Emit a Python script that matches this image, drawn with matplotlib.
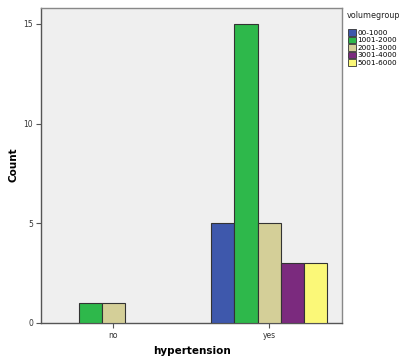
import matplotlib.pyplot as plt
import numpy as np

categories = ['no', 'yes']
groups = ['00-1000', '1001-2000', '2001-3000', '3001-4000', '5001-6000']
colors = ['#3e58ac', '#2eb84b', '#d4cf98', '#7b2a7e', '#fbf878']
counts = {
    '00-1000': [0, 5],
    '1001-2000': [1, 15],
    '2001-3000': [1, 5],
    '3001-4000': [0, 3],
    '5001-6000': [0, 3],
}

fig = plt.figure(figsize=(4.01, 3.58), dpi=100)
ax = fig.add_axes([0.102, 0.098, 0.750, 0.880])
ax.set_facecolor('#efefef')

x = np.arange(len(categories))
w = 0.148
handles = []
for i, g in enumerate(groups):
    vals = np.array(counts[g], dtype=float)
    pos = x + (i - 2) * w
    keep = vals > 0
    ax.bar(pos[keep], vals[keep], width=w, color=colors[i],
           edgecolor='#333333', linewidth=0.8, zorder=3)
    handles.append(plt.Rectangle((0, 0), 1, 1, facecolor=colors[i],
                                 edgecolor='#333333', linewidth=0.6))

ax.set_xlim(-0.464, 1.466)
ax.set_ylim(0, 15.8)
ax.set_xticks(x)
ax.set_xticklabels(categories, fontsize=5.5, color='#333333')
ax.set_yticks([0, 5, 10, 15])
ax.set_yticklabels(['0', '5', '10', '15'], fontsize=5.5, color='#333333')
ax.tick_params(direction='out', length=3.5, width=0.8, color='#555555', pad=2)

for s in ax.spines.values():
    s.set_color('#888888')
    s.set_linewidth(1.0)
ax.spines['left'].set_color('#555555')
ax.spines['bottom'].set_color('#555555')

# axis titles placed by hand so they stay inside the small figure
fig.text(14 / 401, 1 - 165 / 358, 'Count', fontsize=7.5, fontweight='bold',
         rotation=90, ha='center', va='center')
fig.text(192 / 401, 1 - 351 / 358, 'hypertension', fontsize=7.5,
         fontweight='bold', ha='center', va='center')

fig.text(347 / 401, 1 - 15 / 358, 'volumegroup', fontsize=5.8,
         ha='left', va='center', color='#222222')
leg = fig.legend(handles, groups, loc='upper left',
                 bbox_to_anchor=(344 / 401, 1 - 25 / 358),
                 fontsize=5.2, frameon=False, handlelength=1.0,
                 handleheight=1.0, handletextpad=0.25, labelspacing=0.1,
                 borderpad=0.1)

plt.savefig('out.png', dpi=100)
